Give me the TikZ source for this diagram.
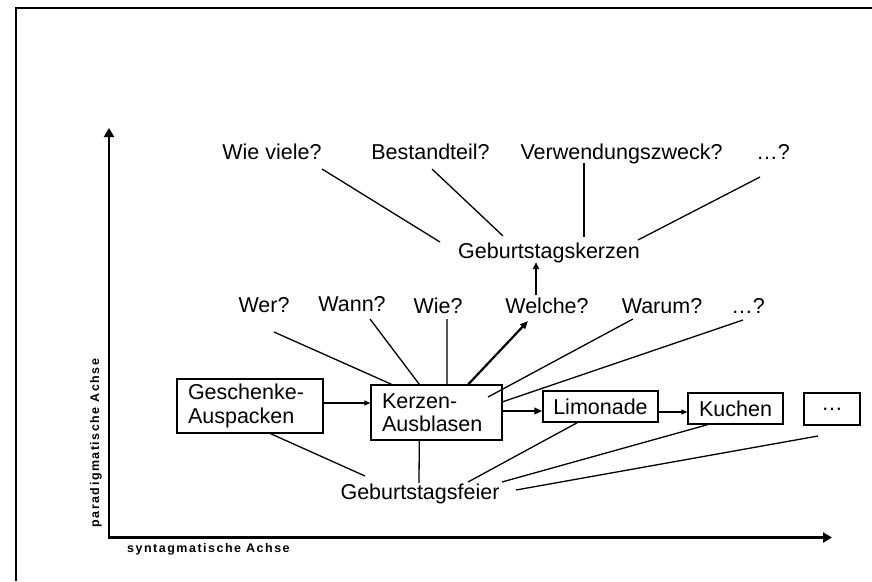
\documentclass[tikz,border=0pt]{standalone}
\usepackage{fontspec}
\setmainfont{Liberation Sans}
\usetikzlibrary{arrows.meta,calc}
\begin{document}
\begin{tikzpicture}[x=1pt,y=-1pt,
  every node/.style={font=\fontsize{21.5}{23.5}\selectfont, inner sep=0pt},
  lbl/.style={anchor=base},
  boxnode/.style={draw, line width=1.4pt, inner xsep=11pt, inner ysep=0pt, align=left},
  ln/.style={line width=1.3pt},
  arr/.style={line width=1.4pt, -{Triangle[length=6pt,width=5pt]}},
  thickarr/.style={line width=2.2pt, -{Triangle[length=8pt,width=6.5pt]}},
  axisline/.style={line width=2.6pt, {Triangle[length=9pt,width=10pt]}-{Triangle[length=9pt,width=10pt]}},
  axlbl/.style={font=\fontsize{12.5}{14}\selectfont\bfseries\addfontfeature{LetterSpace=12}},
  frameline/.style={line width=2pt}
]
\useasboundingbox (0,0) rectangle (872,581);
% frame
\coordinate (fbl) at (16,581);
\coordinate (ftl) at (16,8);
\coordinate (ftr) at (872,8);
\draw[frameline] (fbl) -- (ftl) -- (ftr);

% axes
\coordinate (ytop) at (109,128);
\coordinate (O) at (109,537.5);
\coordinate (xend) at (832,537.5);
\draw[axisline] (ytop) -- (O) -- (xend);
\node[axlbl, rotate=90] (ylab) at (96,443) {paradigmatische Achse};
\node[axlbl, anchor=base west] (xlab) at (127,552) {syntagmatische Achse};

% top row
\node[lbl] (wieviele) at (272,159) {Wie viele?};
\node[lbl] (bestand) at (430.5,159) {Bestandteil?};
\node[lbl] (verw) at (621.5,159) {Verwendungszweck?};
\node[lbl] (dotsA) at (773,159) {…?};
\node[lbl] (gkerzen) at (549,258) {Geburtstagskerzen};

% middle row
\node[lbl] (wer) at (264,312) {Wer?};
\node[lbl] (wann) at (352,311) {Wann?};
\node[lbl] (wie) at (438,313) {Wie?};
\node[lbl] (welche) at (547,313) {Welche?};
\node[lbl] (warum) at (662,313) {Warum?};
\node[lbl] (dotsB) at (748,313) {…?};

% boxes
\node[boxnode, minimum height=54pt, text width=124pt] (gesch) at (250,406) {Geschenke-\\Auspacken};
\node[boxnode, minimum height=55pt, text width=109pt] (kerzen) at (436.5,412.5) {Kerzen-\\Ausblasen};
\node[boxnode, inner xsep=0pt, minimum width=115pt, minimum height=31pt, align=center] (limo) at (600.5,406.5) {Limonade};
\node[boxnode, inner xsep=0pt, minimum width=95pt, minimum height=31pt, align=center] (kuchen) at (735.5,408.5) {Kuchen};
\node[boxnode, inner xsep=0pt, minimum width=56pt, minimum height=32pt, align=center] (dotsbox) at (832,409) {…};

% bottom
\node[lbl] (gfeier) at (420,499) {Geburtstagsfeier};

% connectors: top
\coordinate (t1a) at (322,169); \coordinate (t1b) at (440,242);
\coordinate (t2a) at (432,169); \coordinate (t2b) at (503,236);
\coordinate (t3a) at (584,163); \coordinate (t3b) at (584,237);
\coordinate (t4a) at (760,177); \coordinate (t4b) at (638,240);
\draw[ln] (t1a) -- (t1b);
\draw[ln] (t2a) -- (t2b);
\draw[ln] (t3a) -- (t3b);
\draw[ln] (t4a) -- (t4b);
\coordinate (w5a) at (536,295); \coordinate (w5b) at (536,262);
\draw[line width=2pt, -{Triangle[length=7pt,width=6pt]}] (w5a) -- (w5b);

% connectors: middle
\coordinate (m1) at (274,332);
\coordinate (m2) at (370,319);
\coordinate (m3) at (447,319);
\coordinate (m4) at (528,321);
\coordinate (m5) at (633,319);
\coordinate (m6) at (743,320);
\coordinate (m5e) at (488,397);
\draw[ln] (m1) -- ($(kerzen.north west)!0.16!(kerzen.north east)$);
\draw[ln] (m2) -- ($(kerzen.north west)!0.37!(kerzen.north east)$);
\draw[ln] (m3) -- ($(kerzen.north west)!0.58!(kerzen.north east)$);
\draw[thickarr] ($(kerzen.north west)!0.74!(kerzen.north east)$) -- (m4);
\draw[ln] (m5) -- (m5e);
\draw[ln] (m6) -- ($(kerzen.north east)!0.31!(kerzen.south east)$);

% horizontal arrows
\draw[arr] ([yshift=3pt]gesch.east) -- ([yshift=3pt]gesch.east -| kerzen.west);
\draw[thickarr] ([yshift=1.5pt]kerzen.east) -- ([yshift=1.5pt]kerzen.east -| limo.west);
\draw[arr] ([yshift=-5.5pt]limo.east) -- ([yshift=-5.5pt]limo.east -| kuchen.west);

% connectors: bottom
\coordinate (b1) at (365,476);
\coordinate (b2) at (419,483);
\coordinate (b3) at (468,482);
\coordinate (b4) at (502,482);
\coordinate (b5) at (516,490);
\coordinate (b5s) at (818,436);
\draw[ln] ($(gesch.south west)!0.64!(gesch.south east)$) -- (b1);
\draw[ln] ($(kerzen.south west)!0.37!(kerzen.south east)$) -- (b2);
\draw[ln] ($(limo.south west)!0.30!(limo.south east)$) -- (b3);
\draw[ln] ($(kuchen.south west)!0.21!(kuchen.south east)$) -- (b4);
\draw[ln] (b5s) -- (b5);
\end{tikzpicture}
\end{document}
